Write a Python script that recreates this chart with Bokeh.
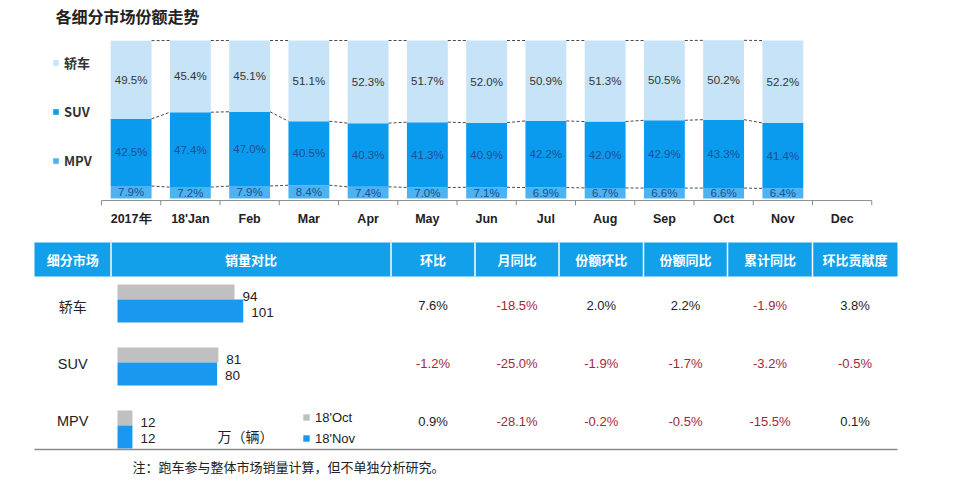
from bokeh.plotting import figure
from bokeh.models import ColumnDataSource, Range1d, Label, Legend, LegendItem, FixedTicker
from bokeh.layouts import column
from bokeh.embed import file_html
from bokeh.resources import INLINE
from bokeh.core.properties import value

# ---------------- data ----------------
categories = ["2017年", "18'Jan", "Feb", "Mar", "Apr", "May", "Jun",
              "Jul", "Aug", "Sep", "Oct", "Nov", "Dec"]
sedan_share = [49.5, 45.4, 45.1, 51.1, 52.3, 51.7, 52.0, 50.9, 51.3, 50.5, 50.2, 52.2]
suv_share = [42.5, 47.4, 47.0, 40.5, 40.3, 41.3, 40.9, 42.2, 42.0, 42.9, 43.3, 41.4]
mpv_share = [7.9, 7.2, 7.9, 8.4, 7.4, 7.0, 7.1, 6.9, 6.7, 6.6, 6.6, 6.4]
series_names = ["轿车", "SUV", "MPV"]

segments = ["轿车", "SUV", "MPV"]
sales_oct = [94, 81, 12]
sales_nov = [101, 80, 12]
mom = [7.6, -1.2, 0.9]
yoy = [-18.5, -25.0, -28.1]
share_mom = [2.0, -1.9, -0.2]
share_yoy = [2.2, -1.7, -0.5]
cum_yoy = [-1.9, -3.2, -15.5]
contrib = [3.8, -0.5, 0.1]
headers = ["细分市场", "销量对比", "环比", "月同比", "份额环比", "份额同比", "累计同比", "环比贡献度"]
sales_legend = ["18'Oct", "18'Nov"]

title_text = "各细分市场份额走势"
unit_text = "万（辆）"
note_text = "注：跑车参与整体市场销量计算，但不单独分析研究。"

# ---------------- styles ----------------
C_SEDAN = "#c6e3f8"
C_SUV = "#0b9bee"
C_MPV = "#4db3f0"
C_IN_LABEL = "#1d4f91"
C_TEXT = "#222222"
C_NEG = "#a0283c"
C_HEAD = "#12a0ea"
C_OCT = "#c0c0c0"
C_NOV = "#1a98f0"
LATIN = "Liberation Sans"
CJK = "Noto Sans CJK SC"

W = 960
# ---------------- top chart ----------------
CAT_PX = 59.25          # width of one category slot
CAT0 = 101 + CAT_PX / 2  # page x of first category centre
PCT_PX = 1.58           # pixels per percentage point
BASE = 198              # page y of 0 %
FRAME_B = 206
TOP_H = 240
p = figure(width=W, height=TOP_H,
           x_range=Range1d(-CAT0 / CAT_PX, (W - CAT0) / CAT_PX),
           y_range=Range1d(-(FRAME_B - BASE) / PCT_PX, BASE / PCT_PX),
           output_backend="svg", toolbar_location=None, y_axis_location=None,
           min_border_left=0, min_border_right=0, min_border_top=0,
           min_border_bottom=TOP_H - FRAME_B)
p.xgrid.grid_line_color = None
p.ygrid.grid_line_color = None
p.outline_line_color = None
p.background_fill_color = "white"

n = len(sedan_share)
idx = list(range(n))
src = ColumnDataSource(dict(x=idx, mpv=mpv_share, suv=suv_share, sedan=sedan_share))
BW = 0.69
rs = p.vbar_stack(["mpv", "suv", "sedan"], x="x", width=BW,
                  fill_color=[C_MPV, C_SUV, C_SEDAN], line_color=None, source=src)
r_mpv, r_suv, r_sedan = rs

mid_mpv = [m / 2 for m in mpv_share]
mid_suv = [m + s / 2 for m, s in zip(mpv_share, suv_share)]
mid_sedan = [m + s + se / 2 for m, s, se in zip(mpv_share, suv_share, sedan_share)]
for mids, vals, col in [(mid_mpv, mpv_share, C_IN_LABEL), (mid_suv, suv_share, C_IN_LABEL),
                        (mid_sedan, sedan_share, "#333333")]:
    p.text(x=idx, y=mids, text=[f"{v:.1f}%" for v in vals], text_align="center",
           text_baseline="middle", text_font=value(LATIN), text_font_size="11.5px",
           text_color=col)

# dashed connectors between consecutive bars
lvl_mpv = mpv_share
lvl_suv = [m + s for m, s in zip(mpv_share, suv_share)]
lvl_top = [m + s + se for m, s, se in zip(mpv_share, suv_share, sedan_share)]
x0s, x1s, y0s, y1s = [], [], [], []
for lv in (lvl_mpv, lvl_suv, lvl_top):
    for i in range(n - 1):
        x0s.append(i + BW / 2)
        x1s.append(i + 1 - BW / 2)
        y0s.append(lv[i])
        y1s.append(lv[i + 1])
p.segment(x0=x0s, y0=y0s, x1=x1s, y1=y1s, line_color="#4a4a4a", line_width=1,
          line_dash="3 2")

# axis line with ticks at category boundaries
nc = len(categories)
AX_Y = -1.3
bounds = [i - 0.5 for i in range(nc + 1)]
p.segment(x0=[bounds[0]], y0=[AX_Y], x1=[bounds[-1]], y1=[AX_Y], line_color="#8c8c8c",
          line_width=1)
p.segment(x0=bounds, y0=[AX_Y] * len(bounds), x1=bounds, y1=[AX_Y - 3] * len(bounds),
          line_color="#8c8c8c", line_width=1)

ax = p.xaxis[0]
ax.ticker = FixedTicker(ticks=list(range(nc)))
ax.major_label_overrides = {i: c for i, c in enumerate(categories)}
ax.axis_line_color = None
ax.major_tick_line_color = None
ax.minor_tick_line_color = None
ax.major_tick_in = 0
ax.major_tick_out = 0
ax.major_label_standoff = 5
ax.major_label_text_font = LATIN
ax.major_label_text_font_style = "bold"
ax.major_label_text_font_size = "12.5px"
ax.major_label_text_color = C_TEXT

p.add_layout(Label(x=(55 - CAT0) / CAT_PX, y=(BASE - 15) / PCT_PX, text=title_text,
                   text_font=CJK, text_font_size="16px", text_font_style="bold",
                   text_color=C_TEXT, text_baseline="middle"))

leg = Legend(items=[LegendItem(label=series_names[0], renderers=[r_sedan]),
                    LegendItem(label=series_names[1], renderers=[r_suv]),
                    LegendItem(label=series_names[2], renderers=[r_mpv])],
             location=(52, FRAME_B - 170), orientation="vertical", spacing=29,
             label_height=20, glyph_height=7, glyph_width=7, label_standoff=5,
             padding=0, margin=0, border_line_color=None, background_fill_alpha=0,
             label_text_font=CJK, label_text_font_size="13px",
             label_text_font_style="bold", label_text_color="#333333")
p.add_layout(leg)

# ---------------- table ----------------
T0, T1 = 240, 480
t = figure(width=W, height=T1 - T0, x_range=Range1d(0, W), y_range=Range1d(T1, T0),
           output_backend="svg", toolbar_location=None, x_axis_location=None,
           y_axis_location=None, min_border=0)
t.xgrid.grid_line_color = None
t.ygrid.grid_line_color = None
t.outline_line_color = None
BAR0 = 117.0
PXU = 1.245
t.extra_x_ranges = {"sales": Range1d((0 - BAR0) / PXU, (W - BAR0) / PXU)}

edges = [34, 110.5, 390.5, 474.5, 558.5, 643, 727, 812, 897]
centers = [(a + b) / 2 for a, b in zip(edges[:-1], edges[1:])]
HEAD_T, HEAD_B = 242, 276
t.quad(left=[edges[0]], right=[edges[-1]], top=[HEAD_T], bottom=[HEAD_B],
       fill_color=C_HEAD, line_color=None)
t.segment(x0=edges[1:-1], y0=[HEAD_T] * 7, x1=edges[1:-1], y1=[HEAD_B] * 7,
          line_color="white", line_width=1.5)
t.text(x=centers, y=[(HEAD_T + HEAD_B) / 2] * len(headers), text=headers,
       text_align="center", text_baseline="middle", text_font=value(CJK),
       text_font_size="13px", text_font_style="bold", text_color="white")

row_y = [305, 363, 420.5]
t.text(x=[centers[0]], y=[row_y[0]], text=[segments[0]], text_align="center",
       text_baseline="middle", text_font=value(CJK), text_font_size="14px",
       text_color=C_TEXT)
t.text(x=[centers[0]] * 2, y=row_y[1:], text=segments[1:], text_align="center",
       text_baseline="middle", text_font=value(LATIN), text_font_size="14.5px",
       text_color=C_TEXT)

cols = [mom, yoy, share_mom, share_yoy, cum_yoy, contrib]
vx, vy, vt, vc = [], [], [], []
for j, colvals in enumerate(cols):
    for i, v in enumerate(colvals):
        vx.append(centers[j + 2])
        vy.append(row_y[i])
        vt.append(f"{v:.1f}%")
        vc.append(C_NEG if v < 0 else C_TEXT)
t.text(x=vx, y=vy, text=vt, text_color=vc, text_align="center", text_baseline="middle",
       text_font=value(LATIN), text_font_size="13px")

bar_top = [284, 347, 410]
OCT_H, NOV_H = 15, 23
r_oct = t.hbar(y=[b + OCT_H / 2 for b in bar_top], left=0, right=sales_oct, height=OCT_H,
               x_range_name="sales", fill_color=C_OCT, line_color=None)
r_nov = t.hbar(y=[b + OCT_H + NOV_H / 2 for b in bar_top], left=0, right=sales_nov,
               height=NOV_H, x_range_name="sales", fill_color=C_NOV, line_color=None)
t.text(x=sales_oct, y=[b + 12 for b in bar_top], text=[str(v) for v in sales_oct],
       x_range_name="sales", x_offset=8, text_baseline="middle", text_font=value(LATIN),
       text_font_size="13.5px", text_color=C_TEXT)
t.text(x=sales_nov, y=[b + 28 for b in bar_top], text=[str(v) for v in sales_nov],
       x_range_name="sales", x_offset=8, text_baseline="middle", text_font=value(LATIN),
       text_font_size="13.5px", text_color=C_TEXT)

leg2 = Legend(items=[LegendItem(label=sales_legend[0], renderers=[r_oct]),
                     LegendItem(label=sales_legend[1], renderers=[r_nov])],
              location=(302, T1 - 448), orientation="vertical", spacing=1,
              label_height=20, glyph_height=8, glyph_width=8, label_standoff=5,
              padding=0, margin=0, border_line_color=None, background_fill_alpha=0,
              label_text_font=LATIN, label_text_font_size="13px", label_text_color=C_TEXT)
t.add_layout(leg2)

t.text(x=[217], y=[435], text=[unit_text], text_baseline="middle",
       text_font=value(CJK), text_font_size="14px", text_color=C_TEXT)
t.segment(x0=[edges[0]], y0=[449], x1=[edges[-1]], y1=[449], line_color="#8a8a8a",
          line_width=1.5)
t.text(x=[132], y=[466], text=[note_text], text_baseline="middle",
       text_font=value(CJK), text_font_size="13px", text_color=C_TEXT)

layout = column(p, t)
open("out.html", "w").write(file_html(layout, INLINE))
